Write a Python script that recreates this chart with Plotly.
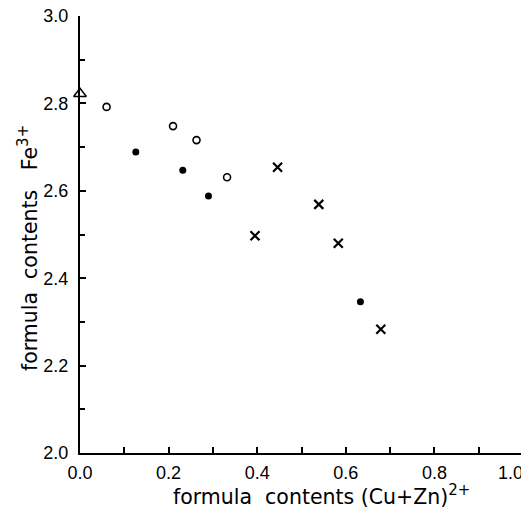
import plotly.graph_objects as go

open_x = [0.060, 0.210, 0.263, 0.332]
open_y = [2.792, 2.748, 2.716, 2.631]
filled_x = [0.126, 0.232, 0.290, 0.633]
filled_y = [2.689, 2.647, 2.588, 2.346]
cross_x = [0.395, 0.446, 0.539, 0.583, 0.679]
cross_y = [2.497, 2.654, 2.569, 2.480, 2.283]
tri_x = [0.0]
tri_y = [2.822]

x_ticks = [0.0, 0.2, 0.4, 0.6, 0.8, 1.0]
x_labels = ["0.0", "0.2", "0.4", "0.6", "0.8", "1.0" + "\u00a0" * 5]
y_ticks = [2.0, 2.2, 2.4, 2.6, 2.8, 3.0]
y_labels = ["2.0", "2.2", "2.4", "2.6", "2.8", "3.0"]

fig = go.Figure()
fig.add_trace(go.Scatter(x=open_x, y=open_y, mode="markers",
                         marker=dict(symbol="circle-open", size=7, color="black", line=dict(width=1.6)),
                         cliponaxis=False))
fig.add_trace(go.Scatter(x=filled_x, y=filled_y, mode="markers",
                         marker=dict(symbol="circle", size=7, color="black"),
                         cliponaxis=False))
fig.add_trace(go.Scatter(x=cross_x, y=cross_y, mode="markers",
                         marker=dict(symbol="x-thin-open", size=9, color="black", line=dict(width=2.2, color="black")),
                         cliponaxis=False))
fig.add_trace(go.Scatter(x=tri_x, y=tri_y, mode="markers",
                         marker=dict(symbol="triangle-up-open", size=11, color="black", line=dict(width=1.5)),
                         cliponaxis=False))

font = dict(family="Liberation Sans, Arial, sans-serif", size=18, color="black")
title_font = dict(family="DejaVu Sans, sans-serif", size=20.5, color="black")

# page has an 8px body margin; keep the whole page inside the 529x518 window
fig.update_layout(
    width=521, height=502,
    margin=dict(l=72, r=6, t=8, b=57),
    paper_bgcolor="white", plot_bgcolor="white",
    showlegend=False,
    font=font,
)
fig.update_xaxes(range=[0, 1.0], tickvals=x_ticks, ticktext=x_labels,
                 showgrid=False, zeroline=False, showline=True, linecolor="black", linewidth=2,
                 ticks="inside", ticklen=6, tickwidth=1.5, tickcolor="black",
                 minor=dict(ticks="inside", dtick=0.1, ticklen=6, tickwidth=1.5, tickcolor="black"),
                 tickfont=dict(size=18), automargin=False, ticklabeloverflow="allow",
                 ticklabelstandoff=2)
fig.update_yaxes(range=[2.0, 3.0], tickvals=y_ticks, ticktext=y_labels,
                 showgrid=False, zeroline=False, showline=True, linecolor="black", linewidth=2,
                 ticks="inside", ticklen=6, tickwidth=1.5, tickcolor="black",
                 minor=dict(ticks="inside", dtick=0.1, ticklen=5, tickwidth=1.5, tickcolor="black"),
                 tickfont=dict(size=18), ticklabelstandoff=6, automargin=False, ticklabeloverflow="allow")

sup = '<sup><span style="font-size:15px">{}</span></sup>'
fig.add_annotation(text="formula  contents (Cu+Zn)" + sup.format("2+"), xref="paper", yref="paper",
                   x=(321 - 80) / 443, y=-(495 - 453) / 437, xanchor="center", yanchor="middle",
                   showarrow=False, font=title_font)
fig.add_annotation(text="formula  contents   Fe" + sup.format("3+"), xref="paper", yref="paper",
                   x=-(80 - 28) / 443, y=(453 - 248) / 437, xanchor="center", yanchor="middle",
                   textangle=-90, showarrow=False, font=title_font)

fig.write_html("out.html")
